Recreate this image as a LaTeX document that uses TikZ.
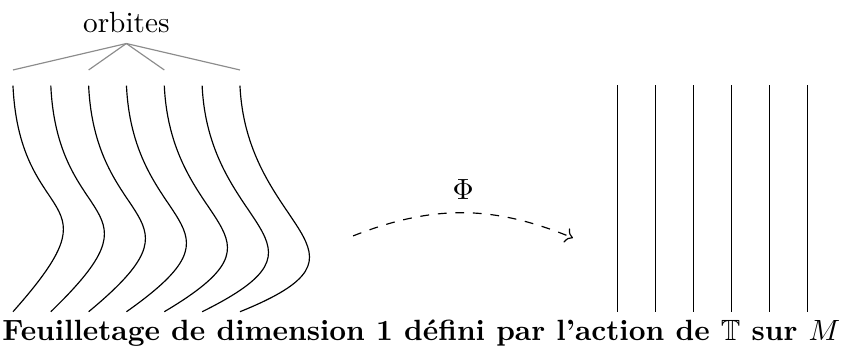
\documentclass[tikz,border=0pt]{standalone}
\usepackage{amsmath,amssymb}
\usepackage{xcolor}
\usepackage{tikz}
\usetikzlibrary{arrows.meta, calc}
\definecolor{orbgray}{HTML}{8C8C8C}

\begin{document}
\begin{tikzpicture}[scale=0.82]
  \useasboundingbox (0,0) rectangle (12.33,5.155);

  %% --- Left panel: deformed orbits ---
  \foreach \i in {0,...,6} {
    \pgfmathsetmacro{\x}{0.19+0.554*\i}
    \coordinate (top\i) at (\x,4.13);
    \draw (\x,3.9) .. controls (\x+0.1,1.75) and (\x+1.61+0.105*\i,2.40-0.151*\i) .. (\x,0.59);
  }
  \node (orbites) at (1.85,4.82) {orbites};
  %% label lines to every other orbit
  \foreach \i in {0,2,4,6}
    \draw[orbgray] (orbites.south) -- (top\i);

  %% --- Map Phi ---
  \coordinate (phistart) at (5.17,1.70);
  \coordinate (phiend)   at (8.39,1.67);
  \draw[->, dashed] (phistart) to[bend left=22]
    node[midway, above=1pt] (phi) {$\Phi$} (phiend);

  %% --- Right panel: straightened orbits ---
  \foreach \i in {0,...,5} {
    \draw (9.04+0.557*\i,3.91) -- (9.04+0.557*\i,0.586);
  }

  \node[font=\bfseries] (caption) at (6.17,0.27)
    {Feuilletage de dimension 1 défini par l'action de $\mathbb{T}$ sur $M$};
\end{tikzpicture}
\end{document}
